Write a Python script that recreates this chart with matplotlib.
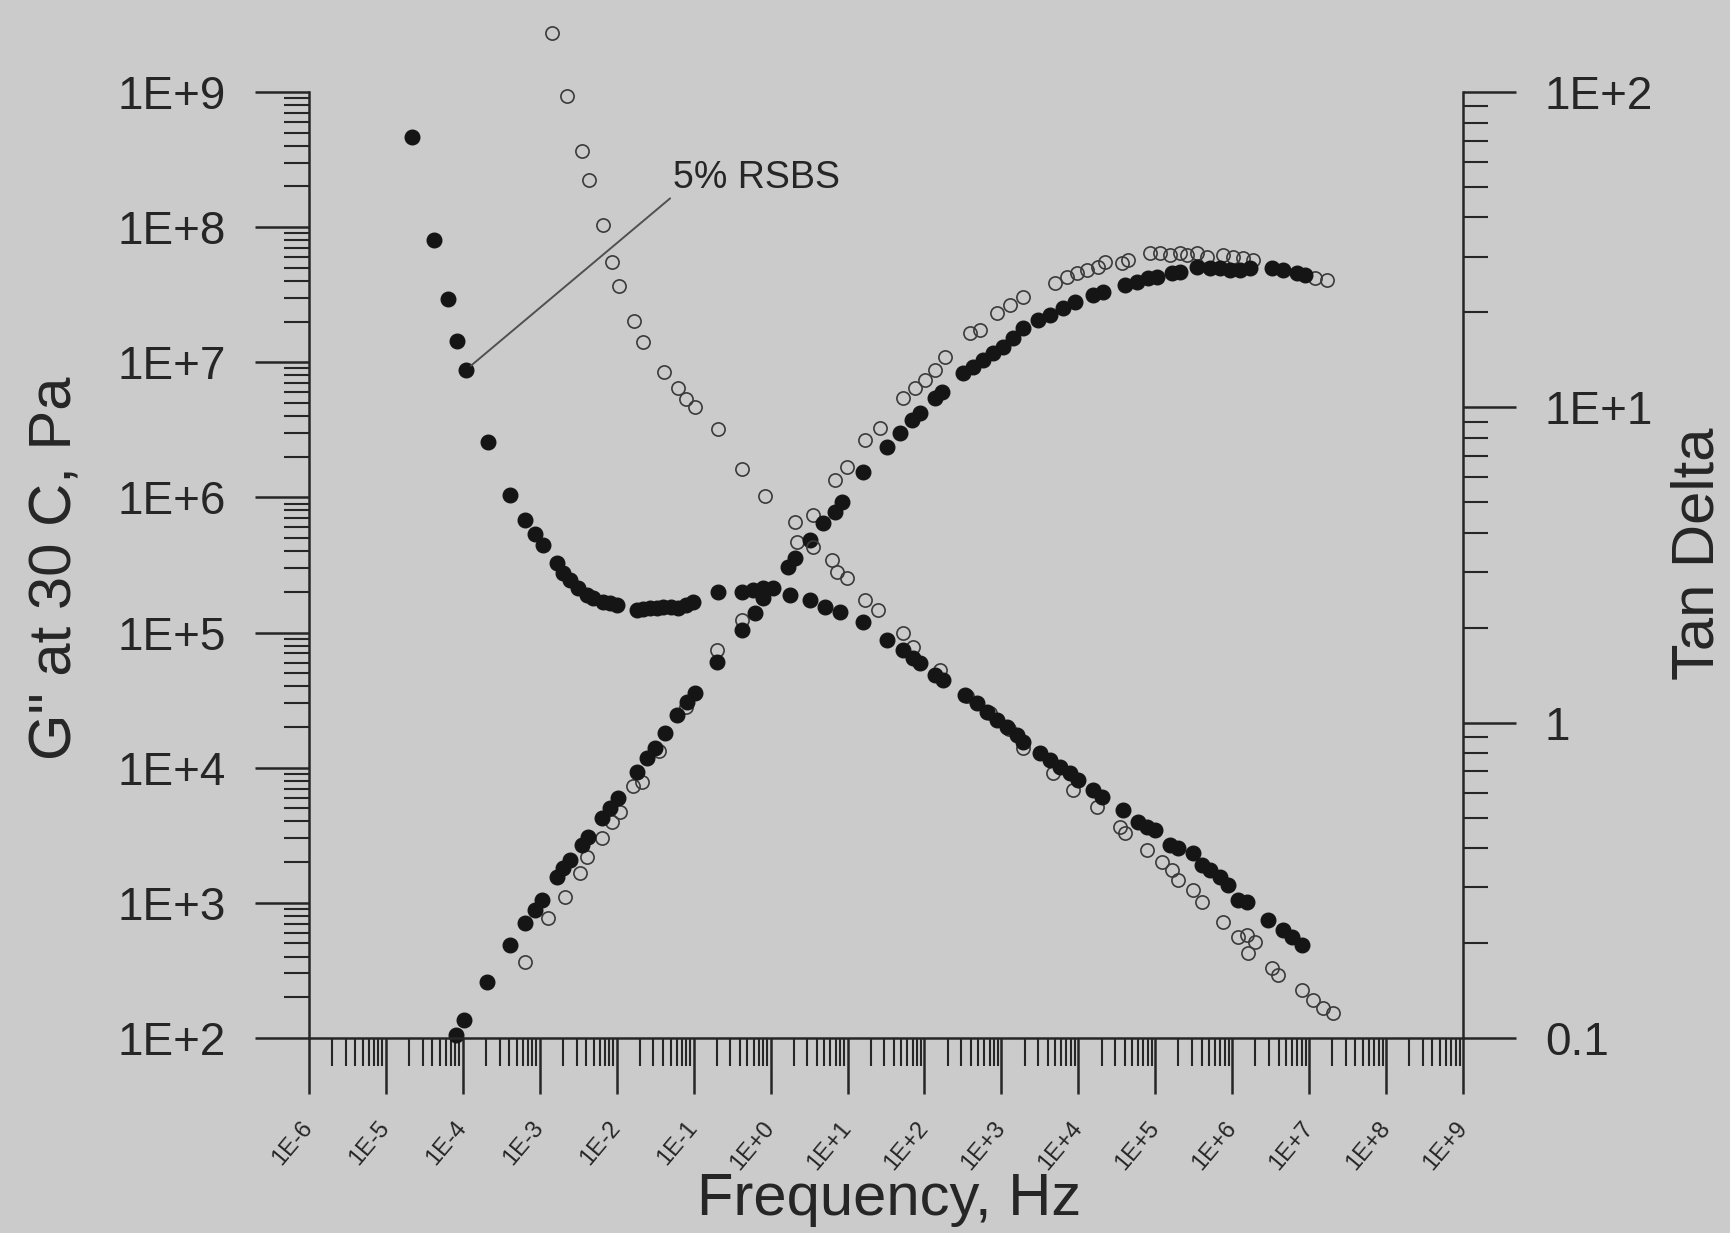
import numpy as np
import matplotlib
matplotlib.use('Agg')
import matplotlib.pyplot as plt
from matplotlib.ticker import LogLocator, NullFormatter

plt.rcParams['font.family'] = ['Liberation Sans', 'DejaVu Sans']

# values, stored as decades (log10)
# G" filled (5% RSBS), left axis
gf_freq = [-4.09, -3.99, -3.69, -3.387, -3.192, -3.062, -2.975, -2.781, -2.694, -2.607,
           -2.456, -2.369, -2.196, -2.087, -1.979, -1.741, -1.611, -1.502, -1.372, -1.221,
           -1.091, -0.983, -0.701, -0.376, -0.203, -0.094, 0.231, 0.317, 0.512, 0.686,
           0.837, 0.924, 1.206, 1.509, 1.682, 1.834, 1.942, 2.137, 2.224, 2.506,
           2.635, 2.766, 2.896, 3.025, 3.155, 3.285, 3.48, 3.632, 3.805, 3.957,
           4.195, 4.325, 4.607, 4.759, 4.91, 5.019, 5.213, 5.322, 5.539, 5.712,
           5.842, 5.972, 6.102, 6.232, 6.513, 6.665, 6.838, 6.946]
gf_val = [2.02, 2.13, 2.415, 2.686, 2.847, 2.945, 3.019, 3.192, 3.254, 3.315,
          3.426, 3.488, 3.624, 3.698, 3.772, 3.969, 4.068, 4.142, 4.253, 4.388,
          4.487, 4.549, 4.783, 5.017, 5.141, 5.252, 5.486, 5.548, 5.684, 5.807,
          5.893, 5.967, 6.189, 6.375, 6.48, 6.572, 6.621, 6.732, 6.782, 6.918,
          6.967, 7.016, 7.066, 7.115, 7.177, 7.251, 7.312, 7.349, 7.399, 7.448,
          7.497, 7.522, 7.571, 7.596, 7.621, 7.633, 7.658, 7.67, 7.707, 7.695,
          7.695, 7.682, 7.682, 7.695, 7.695, 7.682, 7.658, 7.645]

# G" open, left axis
go_freq = [-3.192, -2.889, -2.672, -2.477, -2.391, -2.196, -2.066, -1.957, -1.784, -1.676,
           -1.45, -1.1, -0.701, -0.376, 0.339, 0.556, 0.837, 0.989, 1.227, 1.422,
           1.726, 1.877, 2.007, 2.137, 2.267, 2.592, 2.722, 2.939, 3.112, 3.285,
           3.697, 3.849, 3.979, 4.109, 4.26, 4.347, 4.564, 4.65, 4.932, 5.062,
           5.192, 5.322, 5.408, 5.539, 5.668, 5.885, 6.015, 6.145, 6.275, 7.077, 7.229]
go_val = [2.563, 2.884, 3.044, 3.217, 3.34, 3.483, 3.599, 3.673, 3.865, 3.895,
          4.12, 4.45, 4.87, 5.092, 5.671, 5.869, 6.128, 6.227, 6.424, 6.51,
          6.733, 6.807, 6.868, 6.942, 7.041, 7.214, 7.238, 7.362, 7.423, 7.485,
          7.584, 7.633, 7.658, 7.682, 7.707, 7.744, 7.732, 7.756, 7.806, 7.806,
          7.794, 7.806, 7.794, 7.806, 7.781, 7.794, 7.781, 7.769, 7.756, 7.621, 7.608]

# tan delta filled (5% RSBS), right axis
tf_freq = [-4.665, -4.371, -4.189, -4.072, -3.963, -3.669, -3.387, -3.192, -3.062, -2.954,
           -2.781, -2.694, -2.607, -2.499, -2.391, -2.304, -2.174, -2.087, -2.001, -1.741,
           -1.654, -1.567, -1.48, -1.394, -1.3, -1.199, -1.1, -1.004, -0.679, -0.376,
           -0.224, -0.094, 0.036, 0.252, 0.513, 0.707, 0.902, 1.206, 1.509, 1.726,
           1.856, 1.942, 2.137, 2.246, 2.527, 2.679, 2.809, 2.939, 3.069, 3.199,
           3.285, 3.502, 3.632, 3.762, 3.892, 4.0, 4.195, 4.303, 4.585, 4.78,
           4.888, 4.997, 5.192, 5.3, 5.495, 5.603, 5.712, 5.842, 5.95, 6.08,
           6.189, 6.47, 6.665, 6.773, 6.903]
tf_val = [1.858, 1.531, 1.343, 1.211, 1.118, 0.891, 0.722, 0.643, 0.598, 0.563,
          0.505, 0.473, 0.452, 0.426, 0.405, 0.396, 0.384, 0.378, 0.373, 0.357,
          0.359, 0.362, 0.365, 0.368, 0.366, 0.362, 0.373, 0.384, 0.415, 0.415,
          0.421, 0.426, 0.426, 0.405, 0.389, 0.368, 0.352, 0.32, 0.262, 0.23,
          0.204, 0.188, 0.151, 0.135, 0.088, 0.061, 0.035, 0.008, -0.013, -0.039,
          -0.06, -0.097, -0.119, -0.14, -0.161, -0.182, -0.214, -0.235, -0.277, -0.314,
          -0.33, -0.341, -0.388, -0.399, -0.415, -0.452, -0.468, -0.489, -0.515, -0.563,
          -0.568, -0.626, -0.658, -0.679, -0.705]

# tan delta open, right axis
to_freq = [-2.837, -2.65, -2.447, -2.356, -2.182, -2.057, -1.97, -1.775, -1.662, -1.385,
           -1.207, -1.099, -0.982, -0.679, -0.376, -0.073, 0.317, 0.556, 0.794, 0.859,
           0.989, 1.227, 1.4, 1.725, 1.856, 2.202, 2.55, 2.85, 3.1, 3.285,
           3.675, 3.935, 4.239, 4.542, 4.607, 4.888, 5.083, 5.213, 5.3, 5.495,
           5.603, 5.885, 6.08, 6.189, 6.297, 6.21, 6.513, 6.6, 6.903, 7.055,
           7.185, 7.315]
to_val = [2.186, 1.988, 1.814, 1.721, 1.578, 1.462, 1.386, 1.275, 1.208, 1.113,
          1.06, 1.026, 1.0, 0.93, 0.803, 0.719, 0.637, 0.558, 0.516, 0.479,
          0.458, 0.389, 0.357, 0.283, 0.241, 0.167, 0.085, 0.03, -0.02, -0.082,
          -0.161, -0.214, -0.267, -0.33, -0.351, -0.404, -0.441, -0.468, -0.499, -0.531,
          -0.568, -0.631, -0.679, -0.674, -0.695, -0.732, -0.779, -0.801, -0.848, -0.88,
          -0.906, -0.922]

x_exps = list(range(-6, 10))
x_labels = ['1E-6', '1E-5', '1E-4', '1E-3', '1E-2', '1E-1', '1E+0', '1E+1',
            '1E+2', '1E+3', '1E+4', '1E+5', '1E+6', '1E+7', '1E+8', '1E+9']
g_exps = list(range(2, 10))
g_labels = ['1E+2', '1E+3', '1E+4', '1E+5', '1E+6', '1E+7', '1E+8', '1E+9']
td_ticks = [0.1, 1, 10, 100]
td_labels = ['0.1', '1', '1E+1', '1E+2']

bg = '#cbcbcb'
ink = '#262626'

fig = plt.figure(figsize=(17.31, 12.33), dpi=100)
fig.patch.set_facecolor(bg)
ax = fig.add_axes([0.1785, 0.1582, 0.6667, 0.7672])
ax.set_facecolor(bg)
ax.set_xscale('log')
ax.set_yscale('log')
ax.set_xlim(1e-6, 1e9)
ax.set_ylim(1e2, 1e9)

ax2 = ax.twinx()
ax2.set_yscale('log')
ax2.set_ylim(0.1, 100)

def dec(v):
    return 10.0 ** np.array(v)

ax.plot(dec(go_freq), dec(go_val), 'o', ms=9.5, mfc='none', mec='#3a3a3a', mew=1.2, clip_on=False)
ax.plot(dec(gf_freq), dec(gf_val), 'o', ms=10.5, color='#151515', mec='#151515', clip_on=False)
ax2.plot(dec(to_freq), dec(to_val), 'o', ms=9.5, mfc='none', mec='#3a3a3a', mew=1.2, clip_on=False)
ax2.plot(dec(tf_freq), dec(tf_val), 'o', ms=10.5, color='#151515', mec='#151515', clip_on=False)

ax2.annotate('5% RSBS', xy=(10 ** tf_freq[4], 10 ** tf_val[4]), xytext=(10 ** -1.27, 10 ** 1.67),
             fontsize=27, color=ink, ha='left', va='bottom',
             arrowprops=dict(arrowstyle='-', color='#505050', lw=1.4, shrinkA=0, shrinkB=5,
                             relpos=(0, 0)))

# x axis
ax.set_xticks(dec(x_exps))
ax.set_xticklabels(x_labels, rotation=50, ha='right', va='center', rotation_mode='anchor',
                   fontsize=17, color=ink)
ax.xaxis.set_minor_locator(LogLocator(base=10, subs=np.arange(2, 10), numticks=200))
ax.xaxis.set_minor_formatter(NullFormatter())
ax.tick_params(axis='x', which='major', direction='out', length=40, width=1.8, pad=22, color=ink)
ax.tick_params(axis='x', which='minor', direction='out', length=20, width=1.5, color=ink)

# left axis
ax.set_yticks(dec(g_exps))
ax.set_yticklabels(g_labels, fontsize=33, color=ink)
ax.yaxis.set_minor_locator(LogLocator(base=10, subs=np.arange(2, 10), numticks=200))
ax.yaxis.set_minor_formatter(NullFormatter())
ax.tick_params(axis='y', which='major', direction='out', length=39, width=1.8, pad=21, color=ink)
ax.tick_params(axis='y', which='minor', direction='out', length=18, width=1.5, color=ink)

# right axis
ax2.set_yticks(td_ticks)
ax2.set_yticklabels(td_labels, fontsize=33, color=ink)
ax2.yaxis.set_minor_locator(LogLocator(base=10, subs=np.arange(2, 10), numticks=200))
ax2.yaxis.set_minor_formatter(NullFormatter())
ax2.tick_params(axis='y', which='major', direction='out', length=38, width=1.8, pad=21, color=ink)
ax2.tick_params(axis='y', which='minor', direction='out', length=18, width=1.5, color=ink)

for s in ['top', 'right']:
    ax.spines[s].set_visible(False)
for s in ['top', 'left', 'bottom']:
    ax2.spines[s].set_visible(False)
for a in (ax, ax2):
    for s in a.spines.values():
        s.set_linewidth(1.8)
        s.set_color(ink)

ax.set_xlabel('Frequency, Hz', fontsize=43, color=ink, va='center', ha='center')
ax.xaxis.set_label_coords(0.503, -0.171)
ax.set_ylabel('G" at 30 C, Pa', fontsize=43, color=ink, va='center', ha='center')
ax.yaxis.set_label_coords(-0.219, 0.496)
ax2.set_ylabel('Tan Delta', fontsize=43, color=ink, va='center', ha='center', rotation=90)
ax2.yaxis.set_label_coords(1.2036, 0.512)

fig.savefig('out.png', dpi=100, facecolor=bg)
